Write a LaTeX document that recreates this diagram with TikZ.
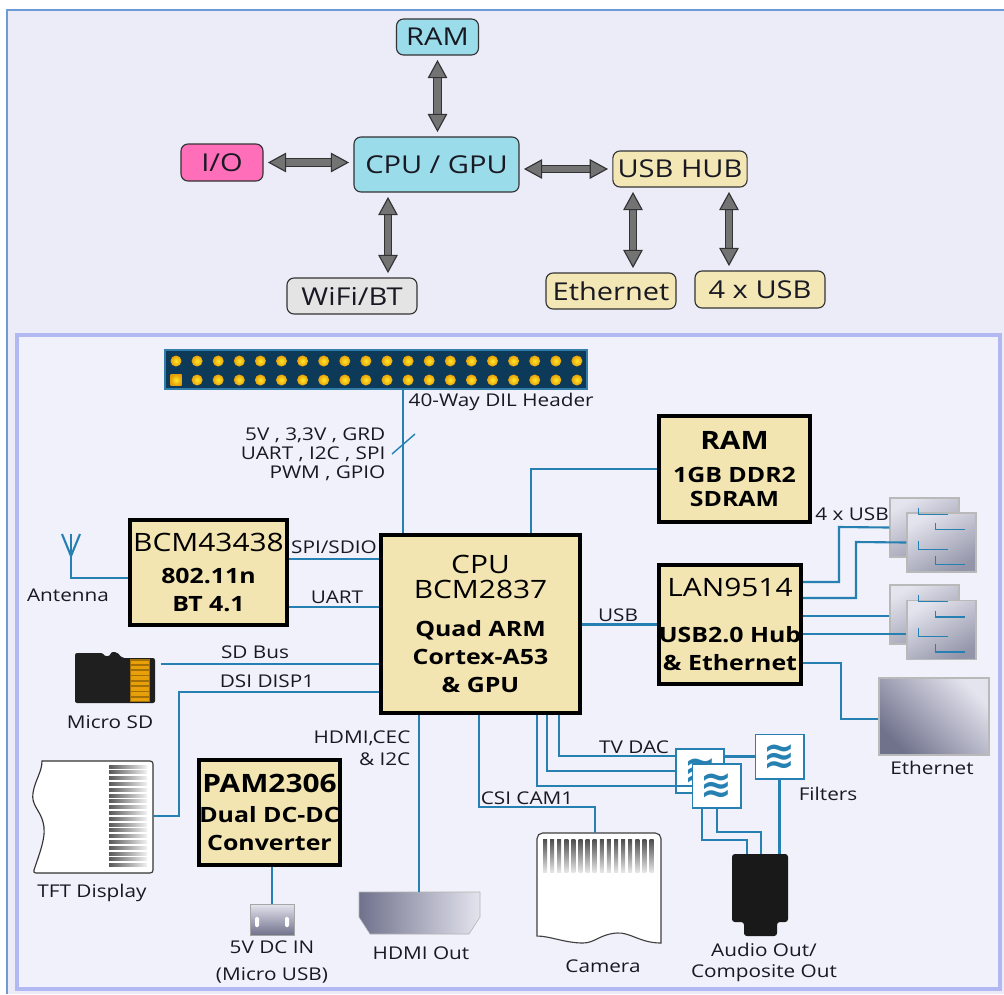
\documentclass[tikz,border=0pt]{standalone}
\usepackage{fontspec}
\setmainfont{Open Sans}[FakeStretch=1.18]
\newfontfamily\symfont{DejaVu Sans}
\usetikzlibrary{arrows.meta}

\definecolor{wirecol}{RGB}{38,128,178}
\definecolor{chipfill}{RGB}{243,229,178}
\definecolor{topbg}{RGB}{236,236,249}
\definecolor{botbg}{RGB}{241,241,251}
\definecolor{panelrim}{RGB}{178,184,242}
\definecolor{framerim}{RGB}{110,155,215}
\definecolor{cpucyan}{RGB}{155,220,235}
\definecolor{iopink}{RGB}{255,110,185}
\definecolor{hubtan}{RGB}{243,231,181}
\definecolor{wifigray}{RGB}{228,228,228}
\definecolor{arrowgray}{RGB}{115,115,115}
\definecolor{arrowedge}{RGB}{50,50,50}
\definecolor{hdrfill}{RGB}{12,58,88}
\definecolor{hdrrim}{RGB}{50,125,170}
\definecolor{pinlight}{RGB}{255,232,40}
\definecolor{pindark}{RGB}{232,160,10}
\definecolor{metaldark}{RGB}{112,114,140}
\definecolor{metallight}{RGB}{228,228,238}
\definecolor{txtcol}{RGB}{25,25,35}

\newcommand\toptxt{\fontsize{17.5}{20}\selectfont}
\newcommand\boxtitle{\fontsize{18}{20}\selectfont\mdseries}
\newcommand\boxsub{\fontsize{15}{20}\selectfont\bfseries}
\newcommand\smalltxt{\fontsize{12.5}{13.5}\selectfont}

\tikzset{
  chip/.style={draw=black, line width=2.8pt, fill=chipfill, align=center, inner sep=0pt,
    text=black, font=\boxsub},
  topbox/.style={draw=black!80, line width=0.8pt, rounded corners=5pt, font=\toptxt,
    outer sep=3.5pt, minimum height=0.9cm, text=txtcol},
  fatarrow/.style={draw=arrowgray, line width=4.5pt,
    {Triangle[length=13pt,width=14pt,color=arrowedge,fill=arrowgray,line width=0.8pt]}-{Triangle[length=13pt,width=14pt,color=arrowedge,fill=arrowgray,line width=0.8pt]},
    preaction={draw=arrowedge, line width=6pt, arrows=-, shorten <=12pt, shorten >=12pt}},
  wire/.style={draw=wirecol, line width=1.5pt},
  filter/.style={draw=wirecol, line width=1.4pt, fill=white, minimum width=1.2cm,
    minimum height=1.1cm, inner sep=0pt, text=wirecol, font=\symfont\bfseries\fontsize{27}{27}\selectfont},
  usbport/.style={draw=gray!55, line width=0.8pt, top color=metallight, bottom color=metaldark!75,
    shading angle=30, minimum width=1.725cm, minimum height=1.475cm, inner sep=0pt},
  lbl/.style={font=\smalltxt, text=txtcol, inner sep=1pt},
}

\begin{document}
\begin{tikzpicture}[x=0.025cm, y=-0.025cm]
\useasboundingbox (0,0) rectangle (1004,994);
\fill[white] (0,0) rectangle (1004,994);

% panels
\fill[topbg] (7,10) rectangle (1004,994);
\draw[framerim, line width=1pt] (7,994) -- (7,10) -- (1004,10);
\filldraw[fill=botbg, draw=panelrim, line width=2.2pt] (17,335) rectangle (1000,989);

%%% overview
\node[topbox, fill=cpucyan, minimum width=2.05cm] (ram) at (437.5,37) {RAM};
\node[topbox, fill=cpucyan, minimum width=4.125cm, minimum height=1.375cm] (cpuT) at (436.5,164.5) {CPU / GPU};
\node[topbox, fill=iopink, minimum width=2.05cm, minimum height=0.925cm] (io) at (222,162.5) {I/O};
\node[topbox, fill=hubtan, minimum width=3.35cm] (usbhub) at (680,169) {USB HUB};
\node[topbox, fill=wifigray, minimum width=3.25cm] (wifi) at (352,296) {WiFi/BT};
\node[topbox, fill=hubtan, minimum width=3.25cm] (ethT) at (611,291) {Ethernet};
\node[topbox, fill=hubtan, minimum width=3.25cm, minimum height=0.925cm] (usb4) at (760,289.5) {4 x USB};

\draw[fatarrow] (ram.south) -- (ram.south |- cpuT.north);
\draw[fatarrow] (io.east) -- (io.east -| cpuT.west);
\draw[fatarrow] (cpuT.east |- usbhub.west) -- (usbhub.west);
\draw[fatarrow] (cpuT.south -| 388,0) -- (wifi.north -| 388,0);
\draw[fatarrow] (usbhub.south -| 633,0) -- (ethT.north -| 633,0);
\draw[fatarrow] (usbhub.south -| 729,0) -- (usb4.north -| 729,0);

%%% board
% 40 pin header
\node[draw=hdrrim, fill=hdrfill, line width=1.2pt, minimum width=10.55cm, minimum height=0.975cm, inner sep=0pt] (hdr) at (376,369.5) {};
\foreach \i in {0,...,19} {
  \shade[inner color=pinlight, outer color=pindark] (176+21.1*\i,361) circle (5.5);
  \ifnum\i>0
    \shade[inner color=pinlight, outer color=pindark] (176+21.1*\i,380) circle (5.5);
  \fi
}
\shade[inner color=pinlight, outer color=pindark] (170.5,374.5) rectangle (181.5,385.5);
\node[lbl, anchor=west] (hdrlbl) at (407,402) {40-Way DIL Header};
\node[lbl, anchor=east, align=right] (pinlbl) at (387,454) {5V , 3,3V , GRD\\UART , I2C , SPI\\PWM , GPIO};

% chips
\node[chip, minimum width=4.975cm, minimum height=4.45cm] (cpu) at (480.5,624)
  {{\boxtitle CPU}\\[-2pt]{\boxtitle BCM2837}\\[7pt]Quad ARM\\Cortex-A53\\\& GPU};
\node[chip, minimum width=3.925cm, minimum height=2.625cm] (bcm) at (208.5,572.5)
  {{\boxtitle BCM43438}\\[3pt]802.11n\\BT 4.1};
\node[chip, minimum width=3.775cm, minimum height=2.65cm] (sdram) at (734.5,469)
  {{\boxtitle\bfseries RAM}\\[3pt]1GB DDR2\\[-3pt]SDRAM};
\node[chip, minimum width=3.55cm, minimum height=2.975cm] (lan) at (730,624.5)
  {{\boxtitle LAN9514}\\[13pt]USB2.0 Hub\\\& Ethernet};
\node[chip, minimum width=3.525cm, minimum height=2.625cm] (pam) at (269.5,812.5)
  {{\boxtitle\bfseries PAM2306}\\[1pt]Dual DC-DC\\Converter};

% filters
\node[filter] (filtA) at (700,771) {≋};
\node[filter] (filtB) at (716.5,786) {≋};
\node[filter] (filtC) at (779.5,756.5) {≋};

% usb ports and ethernet jack
\node[usbport] (usbA) at (924.5,527.5) {};
\node[usbport] (usbB) at (941.5,542.5) {};
\node[usbport] (usbC) at (924.5,614.5) {};
\node[usbport] (usbD) at (941.5,630) {};
\foreach \nm in {usbA,usbB,usbC,usbD} {
  \draw[wirecol, line width=1.2pt] ([shift={(29,11)}]\nm.north west) -- ++(0,6) -- ++(30,0);
  \draw[wirecol, line width=1.2pt] ([shift={(29,44)}]\nm.north west) -- ++(0,8) -- ++(30,0);
}
\node[draw=gray!55, line width=0.8pt, top color=metallight, bottom color=metaldark, shading angle=-45,
  minimum width=2.75cm, minimum height=1.925cm, inner sep=0pt] (ethj) at (934,716.5) {};

% micro SD card
\fill[black!88, rounded corners=1.5pt] (75,703) -- (75,653) -- (103,653) -- (104,656) -- (110,656) -- (111,652)
  -- (117,652) -- (122,658) -- (155,658) -- (155,703) -- cycle;
\fill[pindark!70!black] (130,659) rectangle (150,702);
\foreach \k in {0,...,7}
  \fill[pindark] (131,660.5+5.3*\k) rectangle (149,664+5.3*\k);
\coordinate (sd) at (155,664);

% TFT display
\filldraw[fill=white, draw=black!80, line width=0.8pt, rounded corners=2pt] (42,761) -- (153,761) -- (153,873) -- (33,873)
  [sharp corners] .. controls (40,852) and (47,835) .. (43,822) .. controls (40,810) and (31,805) .. (33,793)
  .. controls (35,780) and (42,772) .. cycle;
\foreach \k in {0,...,17}
  \shade[left color=black!65, right color=black!5] (109,765+5.8*\k) rectangle (147,768+5.8*\k);
\coordinate (tft) at (153,816);

% micro usb power in
\shadedraw[top color=metallight, bottom color=metaldark, draw=gray!70] (250,904) rectangle (294,935);
\fill[white, rounded corners=1pt] (255,917) rectangle (259,927);
\fill[white, rounded corners=1pt] (285,917) rectangle (289,927);
\coordinate (upwr) at (272,904);

% hdmi socket
\shadedraw[left color=metaldark, right color=metallight, draw=gray!60] (359,892) -- (480,892) -- (480,917)
  -- (469,934) -- (370,934) -- (359,917) -- cycle;
\coordinate (hdmi) at (419,892);

% camera
\filldraw[fill=white, draw=black!75, line width=0.8pt] (537,936) [rounded corners=4pt] -- (537,833) -- (661,833)
  [sharp corners] -- (661,943) .. controls (640,943) and (630,932) .. (617,933)
  .. controls (600,934) and (595,943) .. (583,943) .. controls (565,943) and (550,936) .. cycle;
\foreach \k in {0,...,15}
  \shade[top color=black!70, bottom color=black!10] (543+7.1*\k,839) rectangle (547+7.1*\k,872);
\coordinate (cam) at (595,833);

% audio / composite jack
\fill[black!90, rounded corners=2pt] (732,854) -- (788,854) -- (788,922) -- (777,922) -- (777,936)
  -- (744,936) -- (744,922) -- (732,922) -- cycle;
\coordinate (jack) at (760,854);

% connections
\draw[wire] (hdr.south -| 403,0) -- (cpu.north -| 403,0);
\draw[wire, line width=1pt] (392,454) -- (415,434);
\draw[wire] (bcm.east |- 0,559) -- (cpu.west |- 0,559);
\draw[wire] (bcm.east |- 0,607) -- (cpu.west |- 0,607);
\draw[wire] (bcm.west |- 0,578) -| (71,534);
\draw[wire] (62,534) -- (71,556) -- (80,534);
\draw[wire] ([xshift=4pt]sd) -- (cpu.west |- sd);
\draw[wire] (cpu.west |- 0,692) -| (179,816) -- (tft);
\draw[wire] (pam.south -| upwr) -- (upwr);
\draw[wire] (cpu.south -| hdmi) -- (hdmi);
\draw[wire] (cpu.south -| 479,0) |- (cam |- 0,807) -- (cam);
\draw[wire] (cpu.south -| 559,0) |- (filtA.west |- 0,756);
\draw[wire] (cpu.south -| 547,0) |- (filtA.west);
\draw[wire] (cpu.south -| 537,0) |- (filtB.west);
\draw[wire] (filtA.east |- filtC.west) -- (filtC.west);
\draw[wire] (filtC.south) -- (filtC.south |- jack);
\draw[wire] (filtB.south -| 702,0) |- (747,840) -- (747,0 |- jack);
\draw[wire] (filtB.south -| 717,0) |- (761,832) -- (761,0 |- jack);
\draw[wire] (cpu.north -| 531,0) |- (sdram.west);
\draw[wire] (cpu.east |- lan.west) -- (lan.west);
\draw[wire] (lan.east |- 0,582) -| (839,527) -- (usbA.west);
\draw[wire] (lan.east |- 0,598) -| (856,542) -- (usbB.west);
\draw[wire] (lan.east |- 0,616) -- (usbC.west |- 0,616);
\draw[wire] (lan.east |- 0,634) -- (usbD.west |- 0,634);
\draw[wire] (lan.east |- 0,663) -| (841,719) -- (ethj.west |- 0,719);

% labels
\node[lbl] (spilbl) at (334,547) {SPI/SDIO};
\node[lbl] (uartlbl) at (337,597) {UART};
\node[lbl] (antlbl) at (68,595) {Antenna};
\node[lbl] (sdbuslbl) at (255,652) {SD Bus};
\node[lbl] (dsilbl) at (267,681) {DSI DISP1};
\node[lbl] (sdlbl) at (110,722) {Micro SD};
\node[lbl] (tftlbl) at (92,893) {TFT Display};
\node[lbl, anchor=east, align=right] (hdmilbl) at (412,748) {HDMI,CEC\\[2pt]\& I2C};
\node[lbl, align=center] (pwrlbl) at (272,962) {5V DC IN\\[5pt](Micro USB)};
\node[lbl] (hdmioutlbl) at (421,953) {HDMI Out};
\node[lbl] (csilbl) at (527,798) {CSI CAM1};
\node[lbl] (camlbl) at (603,966) {Camera};
\node[lbl] (tvlbl) at (634,747) {TV DAC};
\node[lbl] (filtlbl) at (828,794) {Filters};
\node[lbl, align=center] (audiolbl) at (764,962) {Audio Out/\\[1.5pt]Composite Out};
\node[lbl] (ethlbl) at (932,768) {Ethernet};
\node[lbl] (usblbl) at (618,615) {USB};
\node[lbl] (usb4lbl) at (852,514) {4 x USB};
\end{tikzpicture}
\end{document}
